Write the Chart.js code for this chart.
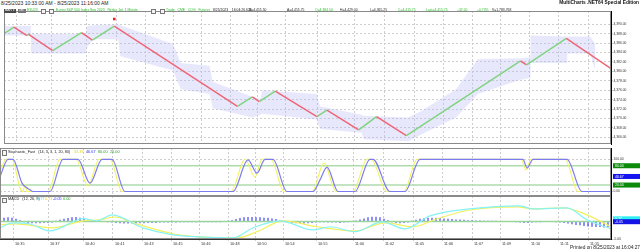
<!DOCTYPE html>
<html>
<head>
<meta charset="utf-8">
<script src="https://cdn.jsdelivr.net/npm/chart.js@4.4.0/dist/chart.umd.min.js"></script>
<style>
  body { margin: 0; background: #fff; width: 640px; height: 252px; overflow: hidden; position: relative; font-family: "Liberation Sans", Arial, sans-serif; }
  canvas { position: absolute; left: 0; }
  .t { position: absolute; white-space: pre; line-height: 1; }
  .g { color: #2cbf2c; }
  .k { color: #222; }
  .box { position: absolute; border: 0.6px solid #777; width: 3px; height: 3.5px; background: #f4f4f4; }
</style>
</head>
<body>
<canvas id="priceChart" width="640" height="141" style="top:7px"></canvas>
<canvas id="stochChart" width="640" height="48" style="top:148px"></canvas>
<canvas id="macdChart" width="640" height="50" style="top:196px"></canvas>

<div class="t k" style="left:1px;top:1px;font-size:5px">8/25/2023 10:33:00 AM - 8/25/2023 11:16:00 AM</div>
<div class="t" style="right:1px;top:1px;font-size:4.8px;font-weight:bold;color:#111">MultiCharts .NET64 Special Edition</div>

<!-- toolbar row -->
<div class="t" style="left:4px;top:8.5px;width:11px;height:4px;background:#4a4a4a;color:#fff;font-size:3.3px;padding-left:1px">BAR ▾</div>
<div class="t" style="left:18px;top:8.5px;width:7px;height:4px;background:#777;color:#fff;font-size:3.3px;padding-left:1px">1M</div>
<div class="t g" style="left:27px;top:9px;font-size:3.4px">ESU23</div>
<div class="box" style="left:41px;top:8.5px"></div>
<div class="box" style="left:49px;top:8.5px"></div>
<div class="t g" style="left:56px;top:9px;font-size:3.4px">E-mini S&amp;P 500 Index Sep 2023   Renko 1pt, 1 Minute</div>
<div class="box" style="left:151px;top:8.5px"></div>
<div class="box" style="left:160px;top:8.5px"></div>
<div class="t g" style="left:166px;top:9px;font-size:3.4px">Trade   CME   CQG   Futures</div>
<div class="t k" style="left:213px;top:9px;font-size:3.4px">8/25/2023    16:04:26.624</div>
<div class="t k" style="left:249px;top:9px;font-size:3.4px">B=4,415.50</div>
<div class="t k" style="left:287px;top:9px;font-size:3.4px">A=4,415.75</div>
<div class="t g" style="left:315px;top:9px;font-size:3.4px">O=4,384.50</div>
<div class="t k" style="left:340px;top:9px;font-size:3.4px">H=4,429.00</div>
<div class="t k" style="left:370px;top:9px;font-size:3.4px">L=4,365.25</div>
<div class="t g" style="left:398px;top:9px;font-size:3.4px">C=4,415.75</div>
<div class="t g" style="left:426px;top:9px;font-size:3.4px">Last=4,415.75</div>
<div class="t g" style="left:457px;top:9px;font-size:3.4px">+32.00</div>
<div class="t g" style="left:477px;top:9px;font-size:3.4px">+0.73%</div>
<div class="t k" style="left:492px;top:9px;font-size:3.4px">V=1,783,768</div>

<!-- indicator headers -->
<div class="box" style="left:2px;top:150px"></div>
<div class="t k" style="left:8px;top:150.5px;font-size:3.8px">Stochastic_Fast   (14, 3, 3, 1, 20, 80)</div>
<div class="t" style="left:74px;top:150.5px;font-size:3.8px;color:#e0d820">33.33</div>
<div class="t" style="left:86px;top:150.5px;font-size:3.8px;color:#3030f0">46.67</div>
<div class="t" style="left:98px;top:150.5px;font-size:3.8px;color:#2a9a2a">80.00</div>
<div class="t" style="left:110px;top:150.5px;font-size:3.8px;color:#2a9a2a">20.00</div>

<div class="box" style="left:2px;top:197.5px"></div>
<div class="t k" style="left:8px;top:198px;font-size:3.8px">MACD   (12, 26, 9)</div>
<div class="t" style="left:37px;top:198px;font-size:3.8px;color:#40e0f0">0.77</div>
<div class="t" style="left:45px;top:198px;font-size:3.8px;color:#e0d820">0.73</div>
<div class="t" style="left:53px;top:198px;font-size:3.8px;color:#3030f0">-0.05</div>
<div class="t" style="left:63px;top:198px;font-size:3.8px;color:#2a9a2a">0.00</div>

<div class="t k" style="right:0px;top:246px;font-size:4.8px">Printed on 8/25/2023 at 16:04:27</div>

<script>
// x axis: renko bar number, with the time labels MultiCharts put under it
const lastBar = 305.5
const timeTickBars = [6.5, 24, 41.5, 56.5, 71, 85.5, 99.5, 114, 127.5, 141.5, 158, 176.5, 191.5, 206.5, 221, 236, 250, 264.5, 279, 294]
const timeTickLabels = ['10:35', '10:37', '10:40', '10:41', '10:43', '10:45', '10:46', '10:48', '10:50', '10:54', '10:55', '11:00', '11:02', '11:05', '11:06', '11:07', '11:09', '11:10', '11:11', '11:15']

// price pane
const priceTicks = [4366, 4368, 4370, 4372, 4374, 4376, 4378, 4380, 4382, 4384, 4386, 4388, 4390]
const renkoBars = [0, 5, 11.5, 12.5, 13.5, 24.5, 39, 44.5, 55.5, 117.5, 125, 128.5, 136.5, 157.5, 162.5, 178.5, 187.5, 202.5, 260, 263, 283, 305.5]
const renkoPrices = [4388.0, 4389.4, 4387.6, 4387.9, 4387.5, 4384.4, 4388.2, 4386.6, 4389.6, 4372.6, 4374.6, 4373.6, 4375.8, 4370.4, 4371.8, 4367.6, 4370.4, 4366.4, 4382.2, 4381.4, 4387.0, 4380.6]
const bandBars = [0, 13.5, 13.5, 41, 42, 45, 57.5, 58.5, 85, 89, 103.5, 105, 125, 129, 130, 157.5, 159, 180, 181, 203.5, 210, 227.5, 238.5, 260, 265, 265, 283.5, 283.5, 295, 297.5]
const bandHigh = [4389.6, 4389.6, 4388.0, 4388.0, 4389.6, 4389.8, 4390.0, 4389.8, 4385.8, 4381.8, 4381.2, 4377.8, 4374.6, 4374.2, 4376.0, 4375.2, 4372.6, 4370.8, 4370.6, 4370.2, 4371.6, 4376.2, 4382.6, 4382.8, 4383.0, 4387.6, 4387.4, 4387.4, 4387.4, 4385.8]
const bandLow = [4387.6, 4387.6, 4383.8, 4383.8, 4385.2, 4386.8, 4386.8, 4383.2, 4380.2, 4376.2, 4375.2, 4372.2, 4370.2, 4370.8, 4371.0, 4369.8, 4367.8, 4367.0, 4365.6, 4365.2, 4366.6, 4370.2, 4375.2, 4378.2, 4378.6, 4381.8, 4381.8, 4383.8, 4383.8, 4380.2]
const signalBar = [55.5]
const signalPrice = [4391.1]

// stochastic pane
const stochTicks = [0, 100]
const stochLevels = [80, 20]
const stochKBars = [0, 3, 6, 10, 11.5, 12.5, 13.5, 24, 30, 38, 44, 49.5, 55, 61, 115.5, 122.5, 127.5, 131, 135.5, 142, 156, 162, 168, 176.5, 183.5, 185.5, 193.5, 202, 208.5, 260.5, 263, 265.5, 282.5, 289, 305.5]
const stochK = [60, 100, 100, 11, 0, 23, 0, 0, 100, 100, 17, 100, 100, 0, 0, 100, 45, 100, 100, 0, 0, 88, 0, 0, 100, 100, 0, 0, 100, 100, 67, 100, 100, 0, 0]
const stochDBars = [0, 4, 6.5, 11, 13.5, 15, 16.5, 25, 31.5, 39, 45, 51, 56, 62.5, 116.5, 124, 128.5, 132.5, 136.5, 143.5, 156.5, 160, 163.5, 169, 177.5, 185, 186.5, 195, 202.5, 210, 261.5, 263.5, 266.5, 283.5, 291, 305.5]
const stochD = [46, 100, 100, 26, 11, 5, 0, 0, 100, 100, 26, 100, 100, 0, 0, 98, 57, 100, 100, 0, 0, 36, 76, 0, 0, 100, 100, 0, 0, 100, 100, 73, 100, 100, 0, 0]
const stochMarkValues = [80, 46.67, 20]
const stochMarkColors = ['#0b8a0b', '#1414f0', '#0b8a0b']

// MACD pane
const macdTicks = [-5]
const macdBars = [0, 6.5, 15, 25, 39, 41.5, 48.5, 56, 71.5, 86.5, 100, 116.5, 126.5, 140, 156.5, 165, 177.5, 191, 202.5, 215, 235, 260, 266.5, 283.5, 293.5, 305.5]
const macdLine = [-1.8, -0.4, -0.7, -2.7, 0.5, 0.8, 0.2, 1.9, -1.8, -3.8, -4.4, -4.7, -1.8, 0.2, -2.4, -1.5, -2.9, -0.1, -2.1, 1.6, 3.6, 4.5, 3.6, 3.9, 0.5, -2.1]
const signalBars = [0, 7.5, 26.5, 41.5, 50, 57.5, 66.5, 86.5, 100, 118.5, 128.5, 141.5, 158.5, 177.5, 192.5, 206.5, 218.5, 235, 258.5, 266.5, 281.5, 293.5, 305.5]
const signalLine = [-0.9, -0.7, -1.8, 0.2, 0.5, 1.3, -0.4, -3.5, -4.4, -4.7, -2.9, 0.2, -1.5, -2.7, -0.4, -1.5, 0.8, 3.3, 4.2, 3.6, 3.9, 1.9, -1.5]
const histStep = 2   // one histogram value every 2 bars
const macdHist = [
  0.8, 1.0, 1.1, 1.0, 0.7, 0.3,
  -0.1, -0.3, -0.4, -0.4, -0.4, -0.3, -0.3, -0.2, 0.1,
  0.4, 0.7, 0.9, 1.1, 1.2, 1.0, 0.7,
  0.5, 0.3, 0.2, 0.1, 0.0, -0.1,
  -0.2, -0.3, -0.4, -0.5, -0.5, -0.5, -0.5, -0.4, -0.4, -0.3, -0.3, -0.3, -0.2, -0.2, -0.2, -0.2, -0.2,
  -0.1, -0.1, -0.1, -0.1, -0.1, -0.1, -0.1, -0.1, -0.1, -0.1, -0.1, 0.0, 0.1, 0.3,
  0.6, 0.9, 1.1, 1.2, 1.2, 1.1, 1.1, 1.0, 1.0, 0.8, 0.6, 0.3,
  0.0, -0.2, -0.3, -0.4, -0.5, -0.5, -0.4, -0.3, -0.2, -0.1, -0.1, -0.2, -0.2, -0.2, -0.3, -0.2, -0.1, 0.0, 0.2,
  0.5, 0.8, 1.1, 1.3, 1.3, 1.1, 0.7,
  0.3, -0.1, -0.3, -0.4, -0.3, -0.2, 0.1,
  0.4, 0.7, 0.9, 1.0, 1.0, 1.0, 0.9, 0.8, 0.7,
  0.6, 0.5, 0.5, 0.4, 0.3, 0.3, 0.2, 0.2, 0.1, 0.1, 0.1, 0.1, 0.0, 0.0, 0.0, 0.0, -0.1,
  -0.2, -0.3, -0.3, -0.2, -0.1, -0.1, 0.0, 0.0, 0.0, -0.1, -0.2, -0.3,
  -0.5, -0.7, -0.9, -1.0, -1.2, -1.3, -1.4, -1.5, -1.5, -1.6, -1.6
]
const macdMarkValues = [0.77, -0.05]
const macdMarkColors = ['#2ef0f0', '#1414e6']


const GRID = '#cdcdcd'
const FONT = '"Liberation Sans", Arial, sans-serif'
Chart.defaults.font.family = FONT

function pts(xs, ys) {
    return xs.map((x, i) => ({ x: x, y: ys[i] }))
}

// thin frame around each pane
const paneFrame = {
    id: 'paneFrame',
    afterDraw(chart) {
        const { ctx, chartArea: a } = chart
        ctx.save()
        ctx.strokeStyle = '#8a8a8a'
        ctx.lineWidth = 1
        ctx.strokeRect(a.left + 0.5, a.top + 0.5, a.right - a.left - 1, a.bottom - a.top - 1)
        ctx.restore()
    }
}

// coloured value boxes on the price scale
const axisMarkers = {
    id: 'axisMarkers',
    afterDraw(chart, args, opts) {
        if (!opts.values) return
        const { ctx, chartArea: a } = chart
        const scale = chart.scales.y
        ctx.save()
        opts.values.forEach((v, i) => {
            const py = scale.getPixelForValue(v)
            ctx.fillStyle = opts.colors[i]
            ctx.fillRect(a.right + 2, py - 2.5, chart.width - a.right - 2, 5)
            ctx.fillStyle = '#fff'
            ctx.font = '3.5px ' + FONT
            ctx.textBaseline = 'middle'
            ctx.fillText(v.toFixed(2), a.right + 4, py + 0.3)
        })
        ctx.restore()
    }
}

function timeAxis(showLabels) {
    return {
        type: 'linear',
        min: 0,
        max: lastBar,
        offset: false,          // the histogram (bar) would otherwise pad the axis
        afterBuildTicks: s => { s.ticks = timeTickBars.map(v => ({ value: v })) },
        afterFit: s => {
            s.height = showLabels ? 7 : 0
            s.paddingLeft = 0
            s.paddingRight = 0
        },
        grid: { color: GRID, offset: false, drawTicks: showLabels, tickLength: 2 },
        border: { display: showLabels, color: '#333', dash: [2, 2] },
        ticks: {
            display: showLabels,
            autoSkip: false,
            maxRotation: 0,
            align: 'start',
            labelOffset: 2,
            padding: 0.5,
            color: '#333',
            font: { size: 3.8 },
            callback: (v, i) => timeTickLabels[i]
        }
    }
}

function rightAxis(min, max, ticks) {
    return {
        position: 'right',
        min: min,
        max: max,
        afterBuildTicks: s => { s.ticks = ticks.map(v => ({ value: v })) },
        afterFit: s => {
            s.width = 29
            s.paddingTop = 0
            s.paddingBottom = 0
        },
        grid: { color: GRID, tickLength: 2 },
        border: { color: '#000', dash: [2, 2] },
        ticks: {
            color: '#333',
            padding: 0.5,
            font: { size: 3.3 },
            callback: v => v.toLocaleString('en-US', { minimumFractionDigits: 2, maximumFractionDigits: 2 })
        }
    }
}

const baseOptions = {
    responsive: false,
    animation: false,
    devicePixelRatio: 1,
    layout: { padding: 0 },
    elements: { point: { radius: 0 } }
}


//<price pane>
var priceChart = new Chart(
    document.getElementById('priceChart'),
    {
        type: 'line',
        data: {
            datasets: [
                {
                    data: pts(bandBars, bandHigh),
                    borderWidth: 0,
                    borderColor: 'rgba(0,0,0,0)',
                    fill: false,
                    order: 5
                },
                {
                    data: pts(bandBars, bandLow),
                    borderWidth: 0,
                    borderColor: 'rgba(0,0,0,0)',
                    backgroundColor: 'rgba(188,188,248,0.34)',
                    fill: '-1',
                    order: 4
                },
                {
                    data: pts(renkoBars, renkoPrices),
                    borderWidth: 1.5,
                    borderColor: '#ef6675',
                    segment: {
                        borderColor: ctx => ctx.p1.parsed.y > ctx.p0.parsed.y ? '#7fd47f' : '#ef6675'
                    },
                    order: 1
                },
                {
                    data: pts(signalBar, signalPrice),
                    showLine: false,
                    pointStyle: 'rect',
                    pointRadius: 1.8,
                    pointBackgroundColor: '#ff1a1a',
                    pointBorderWidth: 0,
                    order: 0
                }
            ]
        },
        options: {
            ...baseOptions,
            scales: {
                x: timeAxis(false),
                y: rightAxis(4364.6, 4392.8, priceTicks)
            },
            plugins: { legend: { display: false }, tooltip: { enabled: false } }
        },
        plugins: [paneFrame]
    }
);


//<stochastic pane>
var stochChart = new Chart(
    document.getElementById('stochChart'),
    {
        type: 'line',
        data: {
            datasets: [
                ...stochLevels.map(lv => ({
                    data: [{ x: 0, y: lv }, { x: lastBar, y: lv }],
                    borderColor: '#aedbae',
                    borderWidth: 1.6,
                    order: 3
                })),
                {
                    data: pts(stochKBars, stochK),
                    borderColor: '#f4f25c',
                    borderWidth: 1.1,
                    cubicInterpolationMode: 'monotone',
                    order: 2
                },
                {
                    data: pts(stochDBars, stochD),
                    borderColor: '#7c7cf2',
                    borderWidth: 1.2,
                    cubicInterpolationMode: 'monotone',
                    order: 1
                }
            ]
        },
        options: {
            ...baseOptions,
            scales: {
                x: timeAxis(false),
                y: rightAxis(-14, 135.1, stochTicks)
            },
            plugins: {
                legend: { display: false },
                tooltip: { enabled: false },
                axisMarkers: { values: stochMarkValues, colors: stochMarkColors }
            }
        },
        plugins: [paneFrame, axisMarkers]
    }
);


//<MACD pane>
var macdChart = new Chart(
    document.getElementById('macdChart'),
    {
        type: 'line',
        data: {
            datasets: [
                {
                    type: 'bar',
                    data: macdHist.map((v, i) => ({ x: i * histStep, y: v })),
                    backgroundColor: 'rgba(70,70,245,0.62)',
                    barThickness: 1.3,
                    order: 5
                },
                {
                    data: [{ x: 0, y: 0 }, { x: lastBar, y: 0 }],
                    borderColor: '#9cd59c',
                    borderWidth: 1.4,
                    order: 4
                },
                {
                    data: pts(signalBars, signalLine),
                    borderColor: '#f2f05e',
                    borderWidth: 1.2,
                    cubicInterpolationMode: 'monotone',
                    order: 2
                },
                {
                    data: pts(macdBars, macdLine),
                    borderColor: '#86f2f6',
                    borderWidth: 1.2,
                    cubicInterpolationMode: 'monotone',
                    order: 1
                }
            ]
        },
        options: {
            ...baseOptions,
            scales: {
                x: timeAxis(true),
                y: rightAxis(-5, 7.3, macdTicks)
            },
            plugins: {
                legend: { display: false },
                tooltip: { enabled: false },
                axisMarkers: { values: macdMarkValues, colors: macdMarkColors }
            }
        },
        plugins: [paneFrame, axisMarkers]
    }
);
</script>
</body>
</html>
